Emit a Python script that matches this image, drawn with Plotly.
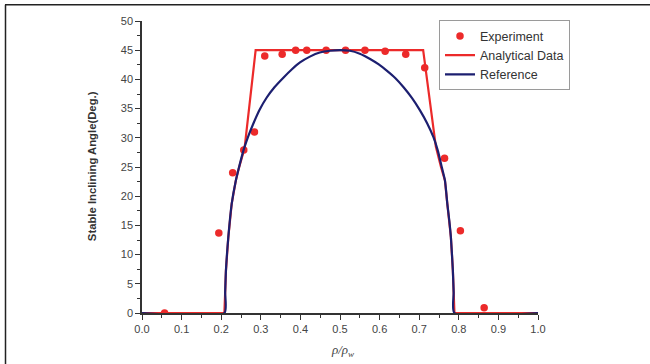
import plotly.graph_objects as go

# Experiment data
exp_x = [0.057, 0.194, 0.229, 0.257, 0.284, 0.310, 0.354, 0.388, 0.416, 0.465,
         0.514, 0.563, 0.614, 0.666, 0.714, 0.764, 0.804, 0.864]
exp_y = [0.0, 13.7, 24.0, 27.9, 31.0, 44.0, 44.3, 45.0, 45.0, 45.0,
         45.0, 45.0, 44.8, 44.3, 42.0, 26.5, 14.1, 0.9]

# Reference curve
ref_x = [0.0, 0.208, 0.210, 0.212, 0.218, 0.2265, 0.237, 0.243, 0.256, 0.268, 0.281,
         0.297, 0.315, 0.335, 0.357, 0.378, 0.399, 0.424, 0.449, 0.475, 0.50,
         0.525, 0.550, 0.576, 0.597, 0.618, 0.640, 0.660, 0.682, 0.702, 0.720,
         0.736, 0.747, 0.757, 0.765, 0.771, 0.776, 0.780, 0.785, 0.787, 0.789, 1.0]
ref_y = [0.0, 0.0, 3.5, 7.3, 13.0, 18.7, 22.7, 24.4, 27.8, 30.2, 32.4,
         34.8, 36.9, 38.7, 40.3, 41.7, 42.9, 43.9, 44.6, 44.9, 45.0,
         44.9, 44.4, 43.5, 42.6, 41.5, 40.2, 38.7, 36.8, 34.7, 32.5,
         30.1, 27.8, 25.0, 22.7, 18.7, 15.8, 13.0, 7.3, 3.5, 0.0, 0.0]

# Analytical data
ana_x = [0.0, 0.208, 0.210, 0.212, 0.218, 0.2265, 0.237, 0.243, 0.259, 0.287,
         0.710, 0.742, 0.755, 0.765, 0.771, 0.780, 0.785, 0.787, 0.789, 1.0]
ana_y = [0.0, 0.0, 3.5, 7.3, 13.0, 18.7, 22.7, 24.4, 28.2, 45.0,
         45.0, 28.5, 25.0, 22.7, 18.7, 13.0, 7.3, 3.5, 0.0, 0.0]

RED = "#ec2a2a"
BLUE = "#1c1f70"

fig = go.Figure()
fig.add_trace(go.Scatter(x=exp_x, y=exp_y, mode="markers", name="Experiment",
                         marker=dict(color=RED, size=7.5)))
fig.add_trace(go.Scatter(x=ana_x, y=ana_y, mode="lines", name="Analytical Data",
                         line=dict(color=RED, width=2.2)))
fig.add_trace(go.Scatter(x=ref_x, y=ref_y, mode="lines", name="Reference",
                         line=dict(color=BLUE, width=2.2, shape="spline", smoothing=0.6)))

W, H = 650, 364
L, R, T, B = 142, 538, 20.7, 313

def px(xp):
    return (xp - L) / (R - L)

def py(yp):
    return (B - yp) / (B - T)

axis_common = dict(
    showgrid=False, zeroline=False, showline=True, linecolor="#333", linewidth=1.5,
    ticks="outside", ticklen=5, tickwidth=1.2, tickcolor="#333",
    tickfont=dict(family="Liberation Sans, Arial", size=11, color="#444"),
)

fig.update_layout(
    width=W, height=H,
    margin=dict(l=L, r=W - R, t=T, b=H - B),
    paper_bgcolor="white", plot_bgcolor="white",
    showlegend=True,
    legend=dict(x=px(439), y=py(20), xanchor="left", yanchor="top",
                bordercolor="#9a9a9a", borderwidth=1, bgcolor="white",
                font=dict(family="Liberation Sans, Arial", size=12.5, color="#333"),
                tracegroupgap=0, itemwidth=30),
    xaxis=dict(range=[0, 1], dtick=0.1, tickformat=".1f",
               minor=dict(ticks="outside", ticklen=3, dtick=0.05, tickcolor="#333"),
               **axis_common),
    yaxis=dict(range=[0, 50], dtick=5,
               minor=dict(ticks="outside", ticklen=3, dtick=2.5, tickcolor="#333"),
               **axis_common),
    annotations=[
        dict(text="<b>Stable Inclining Angle(Deg.)</b>", xref="paper", yref="paper",
             x=px(84), y=py(166), textangle=-90, showarrow=False,
             font=dict(family="Liberation Sans, Arial", size=11.3, color="#333")),
        dict(text="<i>ρ/ρ<sub>w</sub></i>", xref="paper", yref="paper",
             x=px(342), y=py(351), xanchor="center", yanchor="middle", showarrow=False,
             font=dict(family="Liberation Serif, Times New Roman", size=13, color="#444")),
    ],
    shapes=[
        dict(type="line", xref="paper", yref="paper", x0=px(5), x1=px(650),
             y0=py(4.5), y1=py(4.5), line=dict(color="#222", width=1.5)),
        dict(type="line", xref="paper", yref="paper", x0=px(5.5), x1=px(5.5),
             y0=py(4.5), y1=py(364), line=dict(color="#222", width=1.5)),
    ],
)

fig.write_html("out.html", config={"displayModeBar": False},
               post_script="document.body.style.margin='0';document.body.style.padding='0';")
